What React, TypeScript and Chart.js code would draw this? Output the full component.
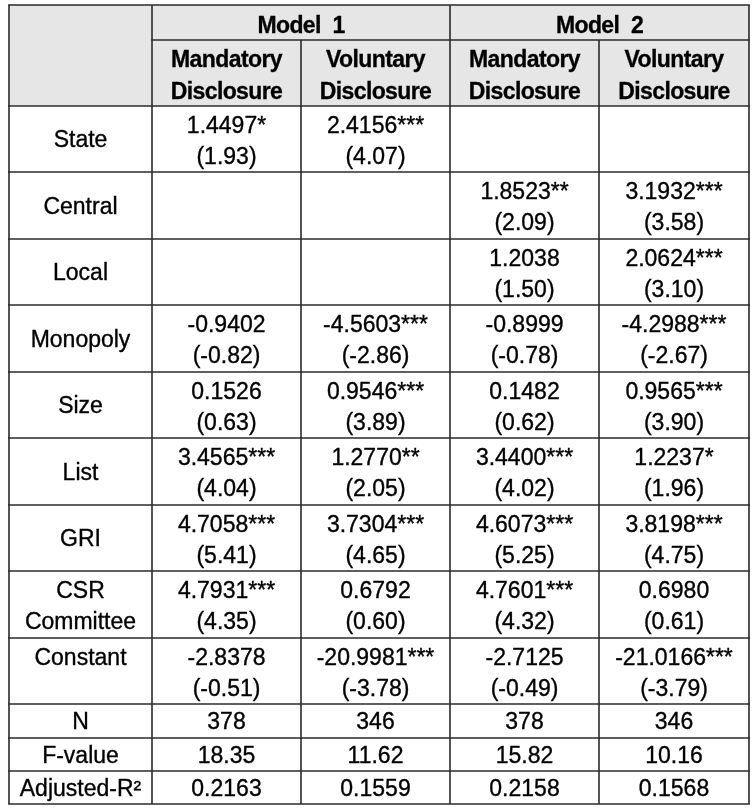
import React, { useEffect, useRef } from 'react';
import { Chart, registerables } from 'chart.js';

Chart.register(...registerables);

// ---------- data ----------
const modelLabels = ['Model  1', 'Model  2'];
const columnLabels = [
  ['Mandatory', 'Disclosure'],
  ['Voluntary', 'Disclosure'],
  ['Mandatory', 'Disclosure'],
  ['Voluntary', 'Disclosure'],
];
const variables = [['State'], ['Central'], ['Local'], ['Monopoly'], ['Size'], ['List'], ['GRI'], ['CSR', 'Committee'], ['Constant', '']];

const m1MandCoef = [1.4497, null, null, -0.9402, 0.1526, 3.4565, 4.7058, 4.7931, -2.8378];
const m1MandT = [1.93, null, null, -0.82, 0.63, 4.04, 5.41, 4.35, -0.51];
const m1MandStars = ['*', '', '', '', '', '***', '***', '***', ''];

const m1VolCoef = [2.4156, null, null, -4.5603, 0.9546, 1.277, 3.7304, 0.6792, -20.9981];
const m1VolT = [4.07, null, null, -2.86, 3.89, 2.05, 4.65, 0.6, -3.78];
const m1VolStars = ['***', '', '', '***', '***', '**', '***', '', '***'];

const m2MandCoef = [null, 1.8523, 1.2038, -0.8999, 0.1482, 3.44, 4.6073, 4.7601, -2.7125];
const m2MandT = [null, 2.09, 1.5, -0.78, 0.62, 4.02, 5.25, 4.32, -0.49];
const m2MandStars = ['', '**', '', '', '', '***', '***', '***', ''];

const m2VolCoef = [null, 3.1932, 2.0624, -4.2988, 0.9565, 1.2237, 3.8198, 0.698, -21.0166];
const m2VolT = [null, 3.58, 3.1, -2.67, 3.9, 1.96, 4.75, 0.61, -3.79];
const m2VolStars = ['', '***', '***', '***', '***', '*', '***', '', '***'];

const statLabels = ['N', 'F-value', 'Adjusted-R\u00B2'];
const nValues = [378, 346, 378, 346];
const fValues = [18.35, 11.62, 15.82, 10.16];
const adjR2Values = [0.2163, 0.1559, 0.2158, 0.1568];

// ---------- layout (table units) ----------
const COL_W = [143, 149, 149, 149, 150];
const ROW_H = [35, 66, 66, 67, 66, 67, 66, 67, 66, 67, 66, 34, 33, 33];
const cum = (a: number[]) => a.reduce((acc: number[], v) => (acc.push(acc[acc.length - 1] + v), acc), [0]);
const colEdges = cum(COL_W);
const rowEdges = cum(ROW_H);
const TOTAL_W = colEdges[colEdges.length - 1];
const TOTAL_H = rowEdges[rowEdges.length - 1];
const colMid = (i: number) => (colEdges[i] + colEdges[i + 1]) / 2;
const rowMid = (i: number) => (rowEdges[i] + rowEdges[i + 1]) / 2;

const FONT = "'Liberation Sans', Arial, Helvetica, sans-serif";

type Cell = { x: number; y: number; lines: string[]; kind: 'model' | 'head' | 'body' };

function valueColumn(ci: number, coef: (number | null)[], t: (number | null)[], stars: string[]): Cell[] {
  const cells: Cell[] = [];
  coef.forEach((c, r) => {
    if (c === null) return;
    cells.push({ x: colMid(ci), y: rowMid(r + 2), lines: [c.toFixed(4) + stars[r], '(' + (t[r] as number).toFixed(2) + ')'], kind: 'body' });
  });
  const si = ci - 1;
  cells.push({ x: colMid(ci), y: rowMid(11), lines: [String(nValues[si])], kind: 'body' });
  cells.push({ x: colMid(ci), y: rowMid(12), lines: [fValues[si].toFixed(2)], kind: 'body' });
  cells.push({ x: colMid(ci), y: rowMid(13), lines: [adjR2Values[si].toFixed(4)], kind: 'body' });
  return cells;
}

function buildDatasets() {
  const header: Cell[] = [
    { x: (colEdges[1] + colEdges[3]) / 2, y: rowMid(0), lines: [modelLabels[0]], kind: 'model' },
    { x: (colEdges[3] + colEdges[5]) / 2, y: rowMid(0), lines: [modelLabels[1]], kind: 'model' },
    ...columnLabels.map((l, i) => ({ x: colMid(i + 1), y: rowMid(1), lines: l, kind: 'head' as const })),
  ];
  const rowLabels: Cell[] = [
    ...variables.map((v, i) => ({ x: colMid(0), y: rowMid(i + 2), lines: v, kind: 'body' as const })),
    ...statLabels.map((s, i) => ({ x: colMid(0), y: rowMid(i + 11), lines: [s], kind: 'body' as const })),
  ];
  const cols = [
    valueColumn(1, m1MandCoef, m1MandT, m1MandStars),
    valueColumn(2, m1VolCoef, m1VolT, m1VolStars),
    valueColumn(3, m2MandCoef, m2MandT, m2MandStars),
    valueColumn(4, m2VolCoef, m2VolT, m2VolStars),
  ];
  return [header, rowLabels, ...cols].map((data, i) => ({
    label: 'col' + i,
    data,
    pointRadius: 0,
    pointHoverRadius: 0,
    showLine: false,
  }));
}

const tablePlugin = {
  id: 'tablePlugin',
  beforeDatasetsDraw(chart: any) {
    const { ctx } = chart;
    const xs = chart.scales.x;
    const ys = chart.scales.y;
    const X = (v: number) => xs.getPixelForValue(v);
    const Y = (v: number) => ys.getPixelForValue(v);
    ctx.save();
    ctx.fillStyle = '#e6e6e6';
    ctx.fillRect(X(0), Y(0), X(TOTAL_W) - X(0), Y(rowEdges[2]) - Y(0));
    ctx.restore();
  },
  afterDatasetsDraw(chart: any) {
    const { ctx } = chart;
    const xs = chart.scales.x;
    const ys = chart.scales.y;
    const X = (v: number) => xs.getPixelForValue(v);
    const Y = (v: number) => ys.getPixelForValue(v);

    // text
    ctx.save();
    ctx.fillStyle = '#000';
    ctx.strokeStyle = '#000';
    ctx.textAlign = 'center';
    ctx.textBaseline = 'alphabetic';
    chart.data.datasets.forEach((ds: any, di: number) => {
      const meta = chart.getDatasetMeta(di);
      meta.data.forEach((el: any, i: number) => {
        const cell: Cell = ds.data[i];
        const px = el.x;
        const py = el.y;
        let stroke = 0;
        if (cell.kind === 'body') {
          ctx.font = `23px ${FONT}`;
          (ctx as any).letterSpacing = '0px';
          stroke = 0.35;
        } else {
          ctx.font = `bold 23px ${FONT}`;
          (ctx as any).letterSpacing = '-0.6px';
          stroke = 0.3;
        }
        ctx.lineWidth = stroke;
        let offsets: number[];
        if (cell.kind === 'model') offsets = [10];
        else if (cell.kind === 'head') offsets = [-6, 26];
        else offsets = cell.lines.length === 2 ? [-6.3, 24.5] : [8.3];
        cell.lines.forEach((line, li) => {
          if (!line) return;
          ctx.fillText(line, px, py + offsets[li]);
          ctx.strokeText(line, px, py + offsets[li]);
        });
      });
    });
    ctx.restore();

    // grid lines
    ctx.save();
    ctx.strokeStyle = '#2a2a2a';
    ctx.lineWidth = 1.6;
    const hLine = (y: number, x0: number, x1: number) => {
      ctx.beginPath();
      ctx.moveTo(X(x0) - 0.8, Y(y));
      ctx.lineTo(X(x1) + 0.8, Y(y));
      ctx.stroke();
    };
    const vLine = (x: number, y0: number, y1: number) => {
      ctx.beginPath();
      ctx.moveTo(X(x), Y(y0));
      ctx.lineTo(X(x), Y(y1));
      ctx.stroke();
    };
    rowEdges.forEach((ry, i) => {
      if (i === 1) hLine(ry, colEdges[1], TOTAL_W);
      else hLine(ry, 0, TOTAL_W);
    });
    colEdges.forEach((cx, i) => {
      if (i === 2 || i === 4) vLine(cx, rowEdges[1], TOTAL_H);
      else vLine(cx, 0, TOTAL_H);
    });
    ctx.restore();
  },
};

export default function App() {
  const ref = useRef<HTMLCanvasElement | null>(null);
  useEffect(() => {
    if (!ref.current) return;
    const chart = new Chart(ref.current, {
      type: 'scatter',
      data: { datasets: buildDatasets() as any },
      options: {
        responsive: false,
        animation: false,
        events: [],
        layout: { padding: { left: 9, top: 5, right: 753 - 9 - TOTAL_W, bottom: 809 - 5 - TOTAL_H } },
        scales: {
          x: { type: 'linear', min: 0, max: TOTAL_W, display: false },
          y: { type: 'linear', min: 0, max: TOTAL_H, reverse: true, display: false },
        },
        plugins: { legend: { display: false }, tooltip: { enabled: false } },
      },
      plugins: [tablePlugin],
    });
    return () => chart.destroy();
  }, []);
  return (
    <div style={{ position: 'absolute', left: 0, top: 0, width: 753, height: 809, background: '#fff' }}>
      <canvas ref={ref} width={753} height={809} style={{ display: 'block' }} />
    </div>
  );
}
